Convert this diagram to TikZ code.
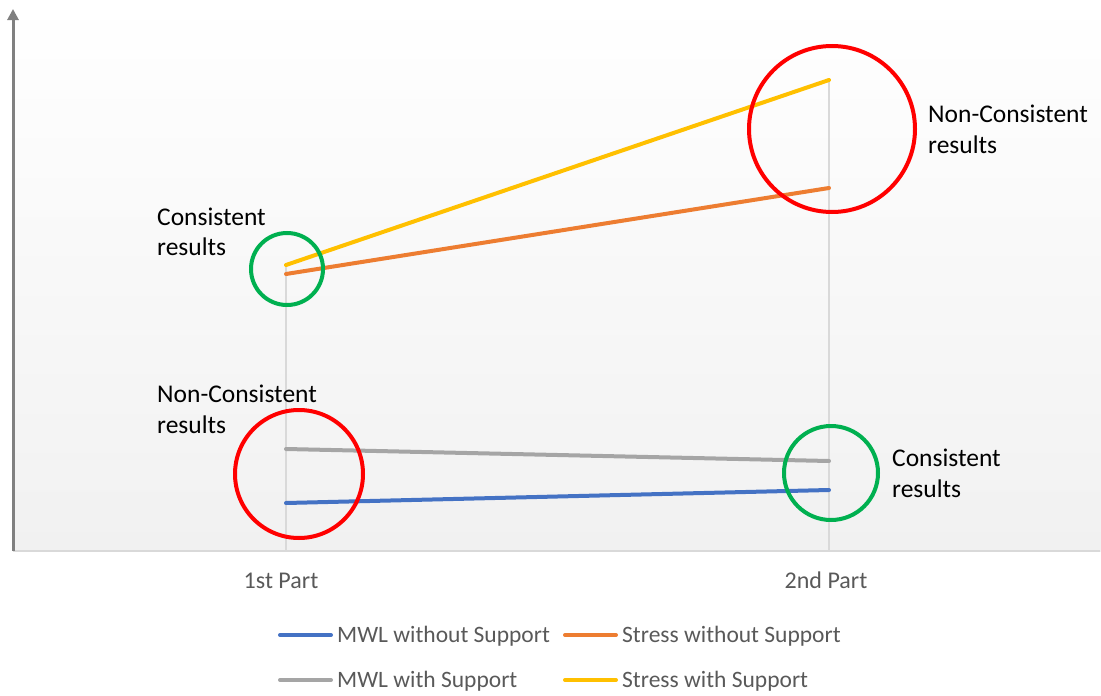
\documentclass[tikz,border=0pt]{standalone}
\usepackage{fontspec}
\setmainfont{Carlito}
\usetikzlibrary{arrows.meta}
\definecolor{sblue}{HTML}{4472C4}
\definecolor{sorange}{HTML}{ED7D31}
\definecolor{sgray}{HTML}{A5A5A5}
\definecolor{syellow}{HTML}{FFC000}
\definecolor{cred}{HTML}{FF0000}
\definecolor{cgreen}{HTML}{00B050}
\definecolor{gridc}{HTML}{D9D9D9}
\definecolor{axisc}{HTML}{808080}
\definecolor{labc}{HTML}{595959}
\definecolor{bgbot}{HTML}{F1F1F1}
\tikzset{
  series/.style={line width=4pt, line cap=round},
  ring/.style={circle, draw, line width=4pt, inner sep=0pt, minimum size=#1},
  annot/.style={anchor=base west, inner sep=0pt, font=\fontsize{25.5}{30}\selectfont, text=black},
  ticklab/.style={anchor=base, inner sep=0pt, font=\fontsize{24}{28}\selectfont, text=labc},
  leglab/.style={anchor=base west, inner sep=0pt, font=\fontsize{23.5}{28}\selectfont, text=labc},
  dropline/.style={draw=gridc, line width=1.5pt}
}
\begin{document}
\begin{tikzpicture}[x=1pt,y=-1pt]
\useasboundingbox (0,0) rectangle (1101,696);
% plot background
\shade[top color=white, bottom color=bgbot] (13,0) rectangle (1101,551);
% data points
\coordinate (ya) at (286,265);
\coordinate (yb) at (829,80);
\coordinate (oa) at (286,274);
\coordinate (ob) at (829,188);
\coordinate (ga) at (286,449);
\coordinate (gb) at (829,461);
\coordinate (ba) at (286,503);
\coordinate (bb) at (829,490);
\coordinate (xa) at (286,551);
\coordinate (xb) at (829,551);
\coordinate (o) at (13,551);
\coordinate (top) at (13,9);
\coordinate (xend) at (1100,551);
% drop lines
\draw[dropline] (ya) -- (xa);
\draw[dropline] (yb) -- (xb);
% axes
\draw[gridc, line width=2pt] (o) -- (xend);
\draw[axisc, line width=3pt, -{Triangle[width=11pt,length=11pt]}] (o) -- (top);
% series
\draw[series, sblue] (ba) -- (bb);
\draw[series, sgray] (ga) -- (gb);
\draw[series, sorange] (oa) -- (ob);
\draw[series, syellow] (ya) -- (yb);
% rings
\node[ring=72pt, draw=cgreen] (c1) at (287,269) {};
\node[ring=166pt, draw=cred] (c2) at (832,129) {};
\node[ring=128pt, draw=cred] (c3) at (299,474) {};
\node[ring=94pt, draw=cgreen] (c4) at (831,473) {};
% annotations
\node[annot] (t1a) at (157,225) {Consistent};
\node[annot] (t1b) at (157,255) {results};
\node[annot] (t2a) at (928,122) {Non-Consistent};
\node[annot] (t2b) at (928,153) {results};
\node[annot] (t3a) at (157,402) {Non-Consistent};
\node[annot] (t3b) at (157,433) {results};
\node[annot] (t4a) at (892,466) {Consistent};
\node[annot] (t4b) at (892,497) {results};
% tick labels
\node[ticklab] (k1) at (281,588) {1st Part};
\node[ticklab] (k2) at (826,588) {2nd Part};
% legend
\coordinate (l1a) at (280,635); \coordinate (l1b) at (331,635);
\coordinate (l2a) at (565,635); \coordinate (l2b) at (616,635);
\coordinate (l3a) at (280,680); \coordinate (l3b) at (331,680);
\coordinate (l4a) at (565,680); \coordinate (l4b) at (616,680);
\draw[series, sblue] (l1a) -- (l1b);
\draw[series, sorange] (l2a) -- (l2b);
\draw[series, sgray] (l3a) -- (l3b);
\draw[series, syellow] (l4a) -- (l4b);
\node[leglab] (g1) at (337,642) {MWL without Support};
\node[leglab] (g2) at (622,642) {Stress without Support};
\node[leglab] (g3) at (337,687) {MWL with Support};
\node[leglab] (g4) at (622,687) {Stress with Support};
\end{tikzpicture}
\end{document}
